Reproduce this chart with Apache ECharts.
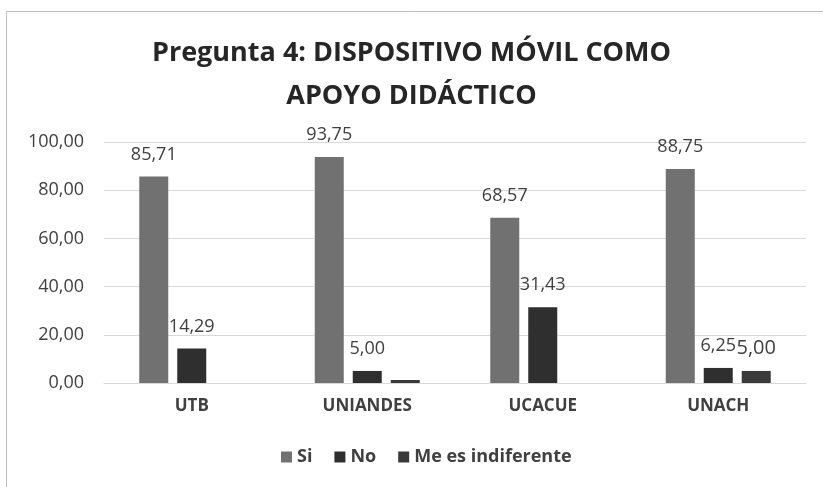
<!DOCTYPE html>
<html>
<head>
<meta charset="utf-8">
<script src="https://cdn.jsdelivr.net/npm/echarts@6/dist/echarts.min.js"></script>
<style>
  html, body { margin: 0; padding: 0; background: #fff; }
  #chart { width: 823px; height: 487px; }
</style>
</head>
<body>
<div id="chart"></div>
<script>
;(function () {
  const categories = ['UTB', 'UNIANDES', 'UCACUE', 'UNACH']
  const si = [85.71, 93.75, 68.57, 88.75]
  const no = [14.29, 5.0, 31.43, 6.25]
  const indiferente = [0, 1.25, 0, 5.0]
  // labels shown only where the original shows them
  const indiferenteLabels = [false, false, false, true]

  const font = '"Open Sans", sans-serif'
  const fmt = (v) => Number(v).toFixed(2).replace('.', ',')

  function label(size) {
    return {
      show: true,
      position: 'top',
      distance: 13,
      color: '#404040',
      fontFamily: font,
      fontSize: size,
      formatter: (p) => fmt(p.value),
    }
  }

  const chart = echarts.init(document.getElementById('chart'))
  chart.setOption({
    animation: false,
    title: {
      text: 'Pregunta 4: DISPOSITIVO MÓVIL COMO\nAPOYO DIDÁCTICO',
      left: 'center',
      top: 27,
      textStyle: { fontFamily: font, fontWeight: 'bold', fontSize: 27, lineHeight: 43, color: '#262626' },
    },
    graphic: [
      { type: 'rect', shape: { x: 6.5, y: 11.5, width: 840, height: 500 }, style: { fill: 'none', stroke: '#bfbfbf', lineWidth: 1 } },
    ],
    legend: {
      bottom: 16,
      left: 276,
      itemWidth: 11,
      itemHeight: 11,
      itemGap: 22,
      icon: 'rect',
      textStyle: { fontFamily: font, fontWeight: 'bold', fontSize: 18, color: '#404040' },
    },
    grid: { left: 104, right: 17, top: 142, bottom: 104 },
    xAxis: {
      type: 'category',
      data: categories,
      axisTick: { show: false },
      axisLine: { lineStyle: { color: '#d9d9d9' } },
      axisLabel: { margin: 15, fontFamily: font, fontWeight: 'bold', fontSize: 17, color: '#404040' },
    },
    yAxis: {
      type: 'value',
      min: 0,
      max: 100,
      interval: 20,
      axisLabel: { margin: 20, fontFamily: font, fontSize: 18, color: '#404040', formatter: fmt },
      splitLine: { lineStyle: { color: '#d9d9d9' } },
    },
    series: [
      { name: 'Si', type: 'bar', data: si, barWidth: 29, barGap: '31%', itemStyle: { color: '#717171' }, label: label(18) },
      { name: 'No', type: 'bar', data: no, barWidth: 29, barGap: '31%', itemStyle: { color: '#2f2f2f' }, label: label(18) },
      {
        name: 'Me es indiferente',
        type: 'bar',
        barWidth: 29,
        barGap: '31%',
        itemStyle: { color: '#3a3a3a' },
        data: indiferente.map((v, i) => ({ value: v, label: { show: indiferenteLabels[i] } })),
        label: label(20),
      },
    ],
  })
})()
</script>
</body>
</html>
